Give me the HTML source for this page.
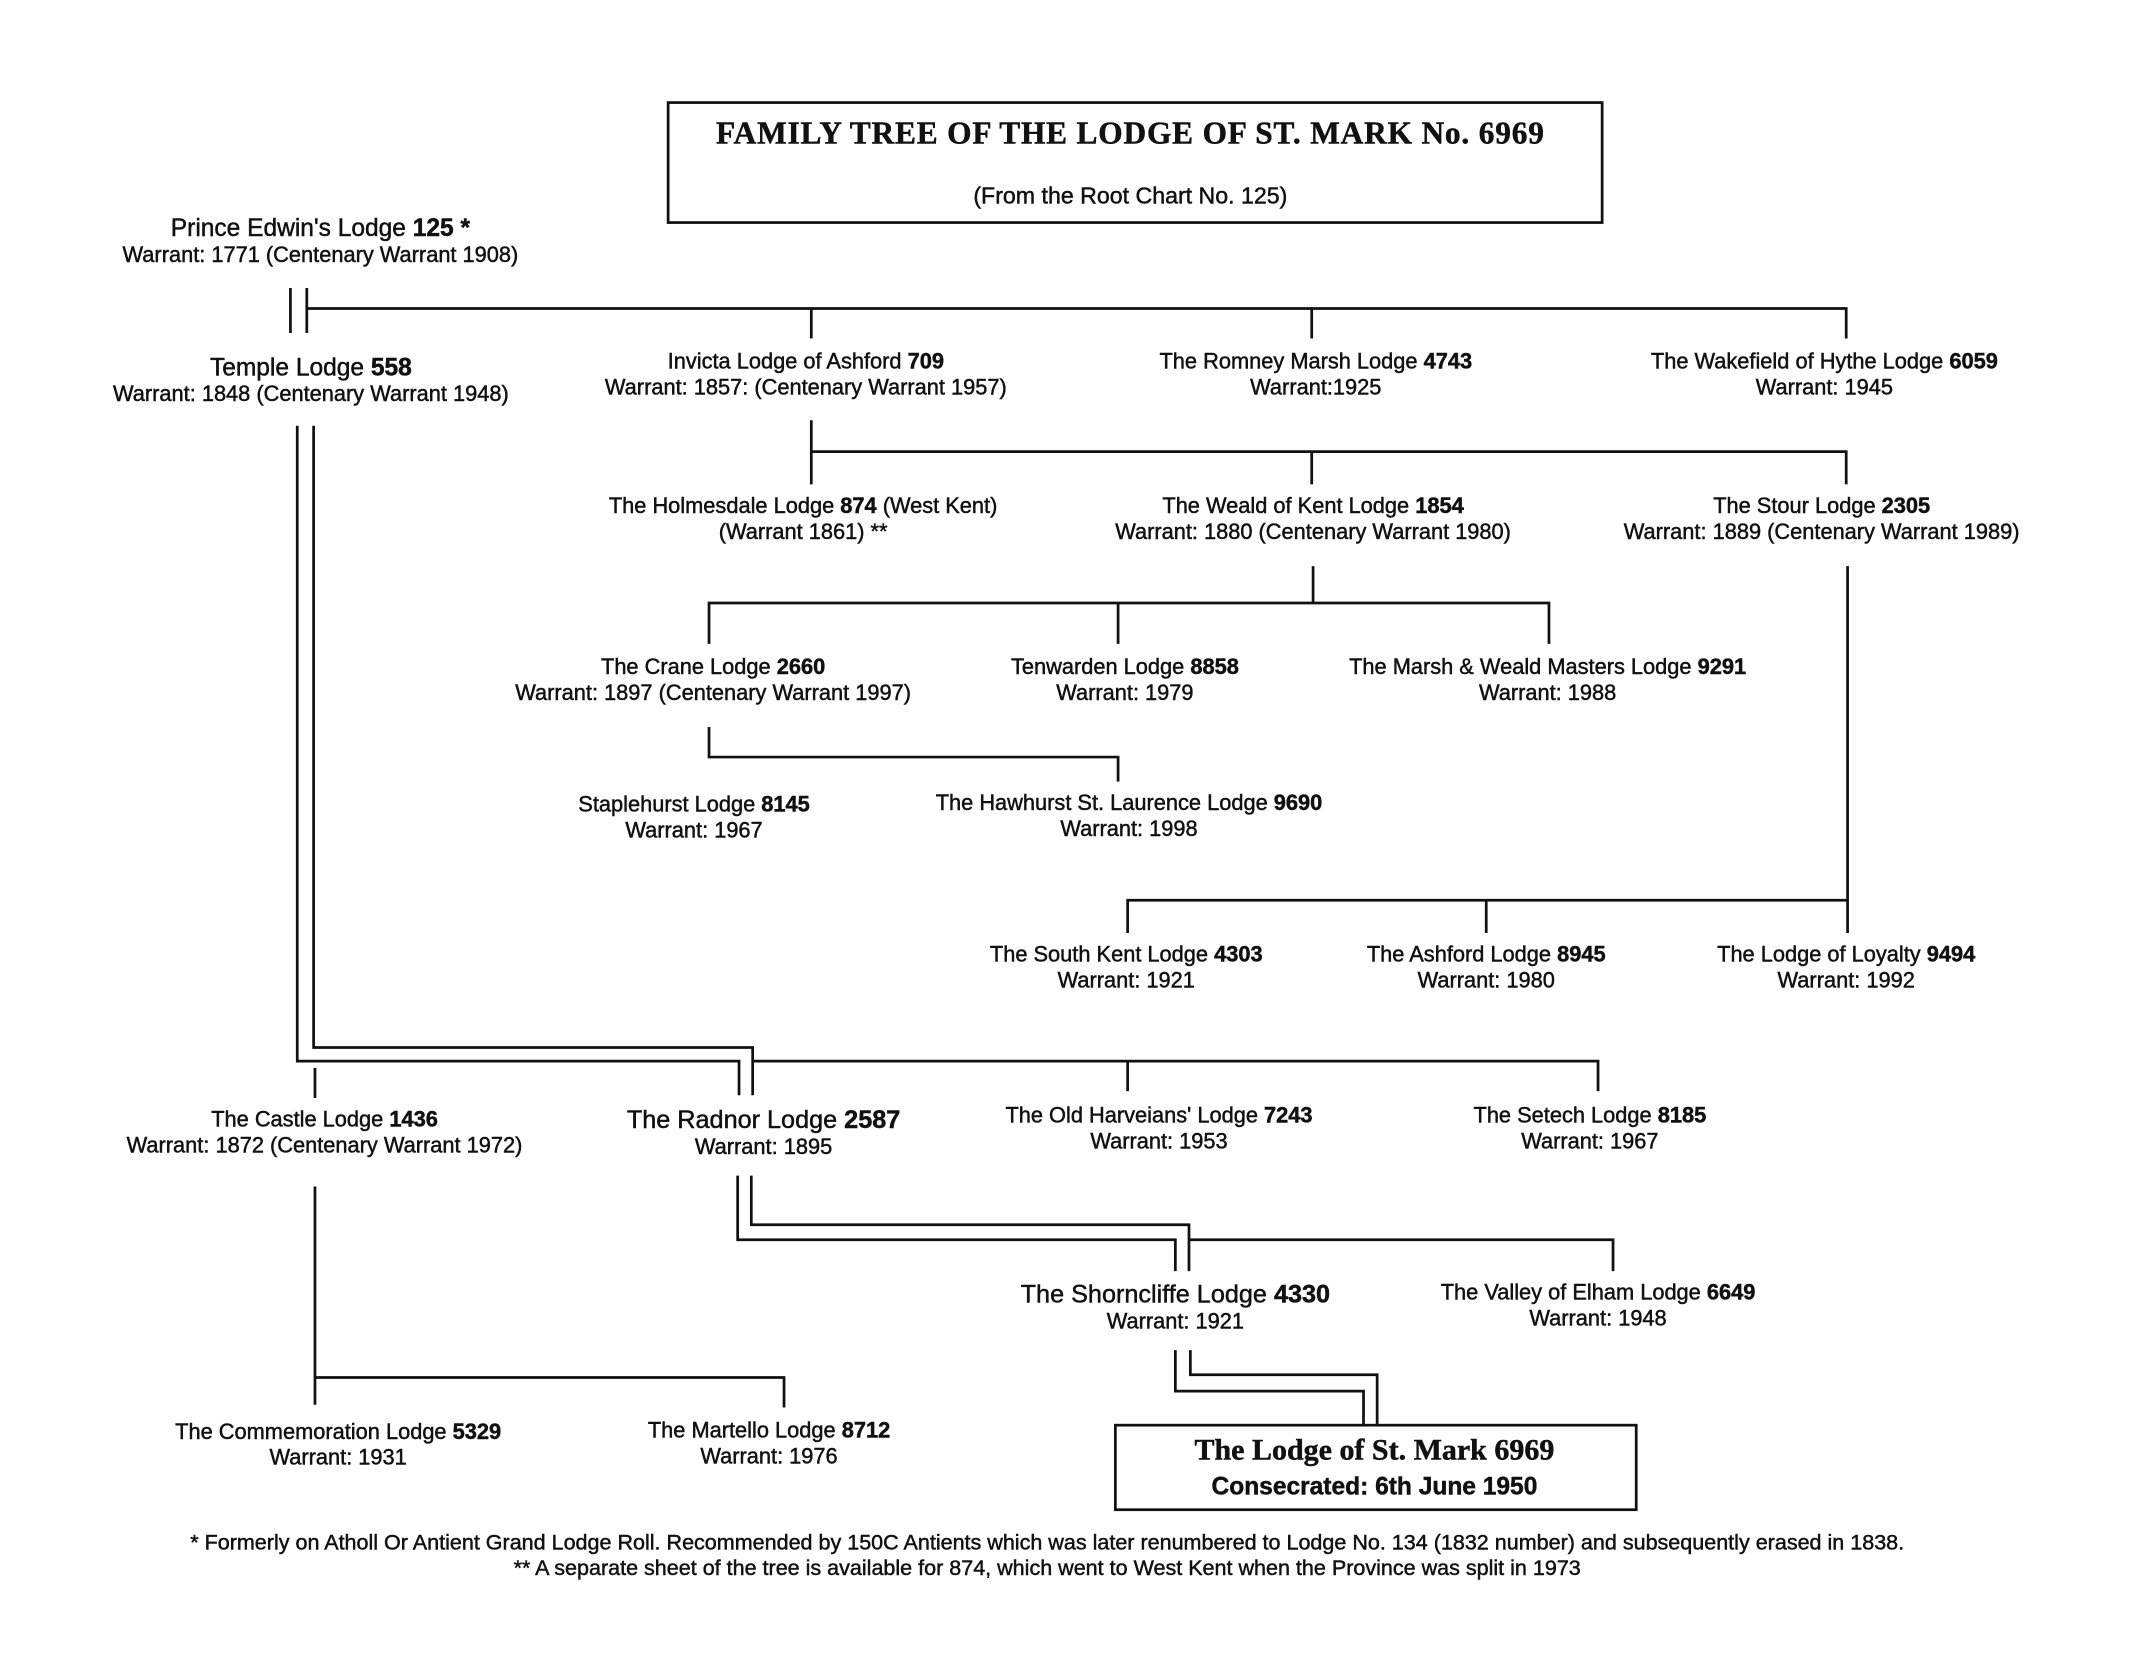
<!DOCTYPE html>
<html><head><meta charset="utf-8"><style>
html,body{margin:0;padding:0;background:#fff;}
svg{display:block;}
text{font-family:"Liberation Sans",sans-serif;fill:#111;font-size:16px;stroke:#111;stroke-width:0.35px;}
.s{font-family:"Liberation Serif",serif;font-weight:bold;}
line,polyline,rect{stroke:#111;stroke-width:2;fill:none;}
</style></head><body>
<svg width="2138" height="1675" viewBox="0 0 1568 1228" xmlns="http://www.w3.org/2000/svg">
<rect x="490" y="75" width="685" height="88"/>
<text x="829" y="105" text-anchor="middle" class="s" style="font-size:23px;letter-spacing:0.6px">FAMILY TREE OF THE LODGE OF ST. MARK No. 6969</text>
<text x="829" y="149" text-anchor="middle" style="font-size:17px">(From the Root Chart No. 125)</text>

<g text-anchor="middle">
<text x="235" y="173" style="font-size:18px">Prince Edwin's Lodge <tspan font-weight="bold">125 *</tspan></text>
<text x="235" y="192">Warrant: 1771 (Centenary Warrant 1908)</text>
<text x="228" y="275" style="font-size:18px">Temple Lodge <tspan font-weight="bold">558</tspan></text>
<text x="228" y="294">Warrant: 1848 (Centenary Warrant 1948)</text>
<text x="591" y="270">Invicta Lodge of Ashford <tspan font-weight="bold">709</tspan></text>
<text x="591" y="289">Warrant: 1857: (Centenary Warrant 1957)</text>
<text x="965" y="270">The Romney Marsh Lodge  <tspan font-weight="bold">4743</tspan></text>
<text x="965" y="289">Warrant:1925</text>
<text x="1338" y="270">The Wakefield of Hythe Lodge <tspan font-weight="bold">6059</tspan></text>
<text x="1338" y="289">Warrant: 1945</text>
<text x="589" y="376">The Holmesdale Lodge <tspan font-weight="bold">874</tspan> (West Kent)</text>
<text x="589" y="395">(Warrant 1861)  **</text>
<text x="963" y="376">The Weald of Kent Lodge <tspan font-weight="bold">1854</tspan></text>
<text x="963" y="395">Warrant: 1880 (Centenary Warrant 1980)</text>
<text x="1336" y="376">The Stour Lodge <tspan font-weight="bold">2305</tspan></text>
<text x="1336" y="395">Warrant: 1889 (Centenary Warrant 1989)</text>
<text x="523" y="494">The Crane Lodge <tspan font-weight="bold">2660</tspan></text>
<text x="523" y="513">Warrant: 1897 (Centenary Warrant 1997)</text>
<text x="825" y="494">Tenwarden Lodge <tspan font-weight="bold">8858</tspan></text>
<text x="825" y="513">Warrant: 1979</text>
<text x="1135" y="494">The Marsh &amp; Weald Masters Lodge <tspan font-weight="bold">9291</tspan></text>
<text x="1135" y="513">Warrant: 1988</text>
<text x="509" y="595">Staplehurst Lodge <tspan font-weight="bold">8145</tspan></text>
<text x="509" y="614">Warrant: 1967</text>
<text x="828" y="594">The Hawhurst St. Laurence Lodge <tspan font-weight="bold">9690</tspan></text>
<text x="828" y="613">Warrant: 1998</text>
<text x="826" y="705">The South Kent  Lodge <tspan font-weight="bold">4303</tspan></text>
<text x="826" y="724">Warrant: 1921</text>
<text x="1090" y="705">The Ashford Lodge <tspan font-weight="bold">8945</tspan></text>
<text x="1090" y="724">Warrant: 1980</text>
<text x="1354" y="705">The Lodge of Loyalty <tspan font-weight="bold">9494</tspan></text>
<text x="1354" y="724">Warrant: 1992</text>
<text x="238" y="826">The Castle Lodge <tspan font-weight="bold">1436</tspan></text>
<text x="238" y="845">Warrant: 1872 (Centenary Warrant 1972)</text>
<text x="560" y="827" style="font-size:18.5px">The Radnor Lodge <tspan font-weight="bold">2587</tspan></text>
<text x="560" y="846">Warrant: 1895</text>
<text x="850" y="823">The Old Harveians' Lodge <tspan font-weight="bold">7243</tspan></text>
<text x="850" y="842">Warrant: 1953</text>
<text x="1166" y="823">The Setech Lodge <tspan font-weight="bold">8185</tspan></text>
<text x="1166" y="842">Warrant: 1967</text>
<text x="862" y="955" style="font-size:18.5px">The Shorncliffe Lodge <tspan font-weight="bold">4330</tspan></text>
<text x="862" y="974">Warrant: 1921</text>
<text x="1172" y="953">The Valley of Elham Lodge <tspan font-weight="bold">6649</tspan></text>
<text x="1172" y="972">Warrant: 1948</text>
<text x="248" y="1055">The Commemoration Lodge <tspan font-weight="bold">5329</tspan></text>
<text x="248" y="1074">Warrant: 1931</text>
<text x="564" y="1054">The Martello Lodge <tspan font-weight="bold">8712</tspan></text>
<text x="564" y="1073">Warrant: 1976</text>
<text x="1008" y="1070" class="s" style="font-size:22px">The Lodge of St. Mark  6969</text>
<text x="1008" y="1096" style="font-size:18px;font-weight:bold">Consecrated: 6th June 1950</text>
<text x="768" y="1136" style="font-size:15.8px">* Formerly on Atholl Or Antient Grand Lodge Roll. Recommended by 150C Antients which was later renumbered to Lodge No. 134 (1832 number) and subsequently erased in 1838.</text>
<text x="768" y="1155" style="font-size:15.8px">** A separate sheet of the tree is available for 874, which went to West Kent when the Province was split in 1973</text>
</g>
<rect x="818" y="1045" width="382" height="62"/>

<line x1="213" y1="211" x2="213" y2="244"/>
<line x1="225" y1="211" x2="225" y2="244"/>
<polyline points="225,226 1354,226 1354,248"/>
<line x1="595" y1="226" x2="595" y2="248"/>
<line x1="962" y1="226" x2="962" y2="248"/>
<line x1="595" y1="308" x2="595" y2="355"/>
<polyline points="595,331 1354,331 1354,355"/>
<line x1="962" y1="331" x2="962" y2="355"/>
<line x1="963" y1="415" x2="963" y2="442"/>
<polyline points="520,472 520,442 1136,442 1136,472"/>
<line x1="820" y1="442" x2="820" y2="472"/>
<polyline points="520,533 520,555 820,555 820,573"/>
<line x1="1355" y1="415" x2="1355" y2="684"/>
<polyline points="827,684 827,660 1355,660"/>
<line x1="1090" y1="660" x2="1090" y2="684"/>
<polyline points="218,312 218,778 542,778 542,803"/>
<polyline points="230,312 230,768 552,768 552,803"/>
<polyline points="552,778 1172,778 1172,800"/>
<line x1="827" y1="778" x2="827" y2="800"/>
<line x1="231" y1="783" x2="231" y2="805"/>
<polyline points="541,862 541,909 862,909 862,932"/>
<polyline points="551,862 551,898 872,898 872,932"/>
<polyline points="872,909 1183,909 1183,932"/>
<polyline points="862,990 862,1020 1000,1020 1000,1045"/>
<polyline points="873,990 873,1008 1010,1008 1010,1045"/>
<line x1="231" y1="870" x2="231" y2="1030"/>
<polyline points="231,1010 575,1010 575,1032"/>
</svg>
</body></html>
